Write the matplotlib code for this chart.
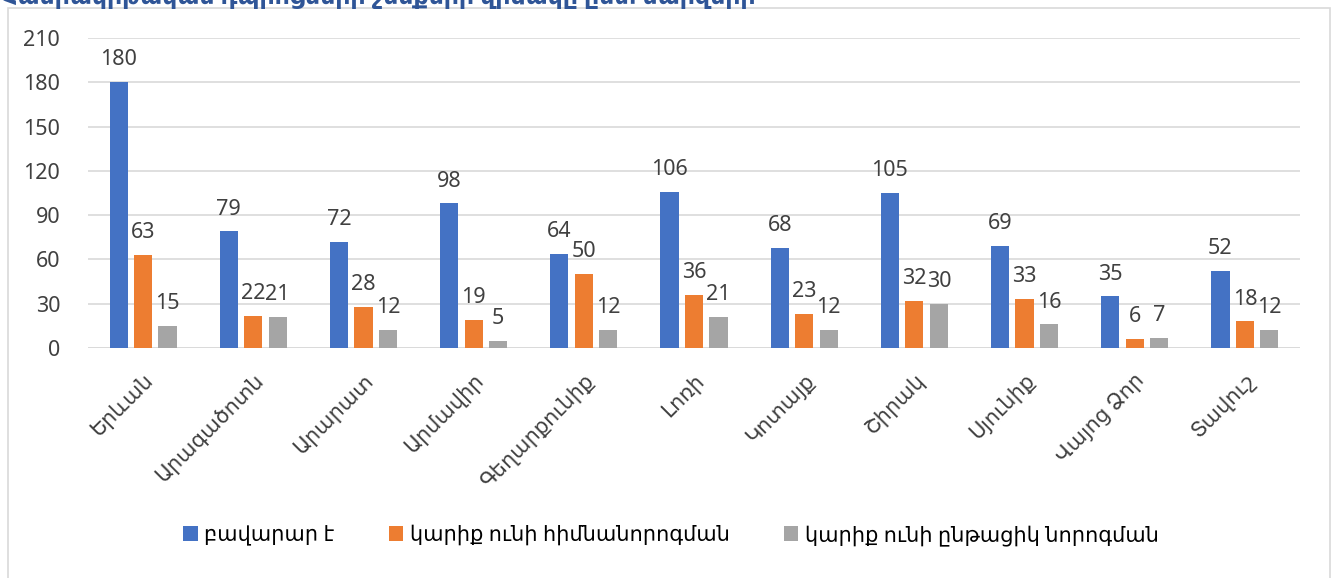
import numpy as np
import matplotlib.pyplot as plt
from matplotlib.patches import Rectangle

plt.rcParams['font.family'] = ['Noto Sans', 'DejaVu Sans']

regions = ["Երևան", "Արագածոտն", "Արարատ", "Արմավիր", "Գեղարքունիք", "Լոռի",
           "Կոտայք", "Շիրակ", "Սյունիք", "Վայոց Ձոր", "Տավուշ"]
good = [180, 79, 72, 98, 64, 106, 68, 105, 69, 35, 52]
major = [63, 22, 28, 19, 50, 36, 23, 32, 33, 6, 18]
current = [15, 21, 12, 5, 12, 21, 12, 30, 16, 7, 12]
series_names = ["բավարար է", "կարիք ունի հիմնանորոգման", "կարիք ունի ընթացիկ նորոգման"]
colors = ["#4472C4", "#ED7D31", "#A5A5A5"]
yticks = [0, 30, 60, 90, 120, 150, 180, 210]

fig = plt.figure(figsize=(13.36, 5.78), dpi=100)
ax = fig.add_axes([88/1336, 1 - 348/578, (1300-88)/1336, (348-38)/578])

# chart border
fig.patches.append(Rectangle((8/1336, -0.1), (1330-8)/1336, 1.1 - 8/578,
                             transform=fig.transFigure, fill=False,
                             edgecolor="#D9D9D9", lw=1.2))
# title, cut off at the top like in the source image
fig.text(2/1336, 1 - 4/578, "Հանրակրթական դպրոցների շենքերի վիճակը ըստ մարզերի",
         color="#2F5597", fontsize=17, fontweight="bold", va="baseline", ha="left")

x = np.arange(len(regions))
w = 0.165
step = 0.222
for i, (vals, c, name) in enumerate(zip([good, major, current], colors, series_names)):
    bars = ax.bar(x + (i - 1) * step, vals, w, color=c, label=name, zorder=3)
    for b, v in zip(bars, vals):
        ax.text(b.get_x() + b.get_width() / 2, v + 8, str(v), ha="center", va="bottom",
                fontsize=15.5, color="#404040")

ax.set_xlim(-0.5, len(regions) - 0.5)
ax.set_ylim(0, 210)
ax.set_yticks(yticks)
ax.yaxis.grid(True, color="#D9D9D9", lw=1.2, zorder=0)
for s in ax.spines.values():
    s.set_visible(False)
ax.axhline(0, color="#D9D9D9", lw=1.2, zorder=1)
ax.tick_params(axis="both", length=0, labelsize=15.5, colors="#404040")
ax.tick_params(axis="y", pad=20)
ax.tick_params(axis="x", pad=16)
ax.set_xticks(x)
ax.set_xticklabels(regions, rotation=45, ha="right", rotation_mode="anchor",
                   color="#404040", fontsize=15)

leg = ax.legend(loc="center", bbox_to_anchor=(0.481, -0.605), ncol=3, frameon=False,
                fontsize=15, handlelength=0.7, handleheight=0.7, handletextpad=0.3,
                columnspacing=2.6)
for t in leg.get_texts():
    t.set_color("#000000")

fig.savefig("out.png", dpi=100)
